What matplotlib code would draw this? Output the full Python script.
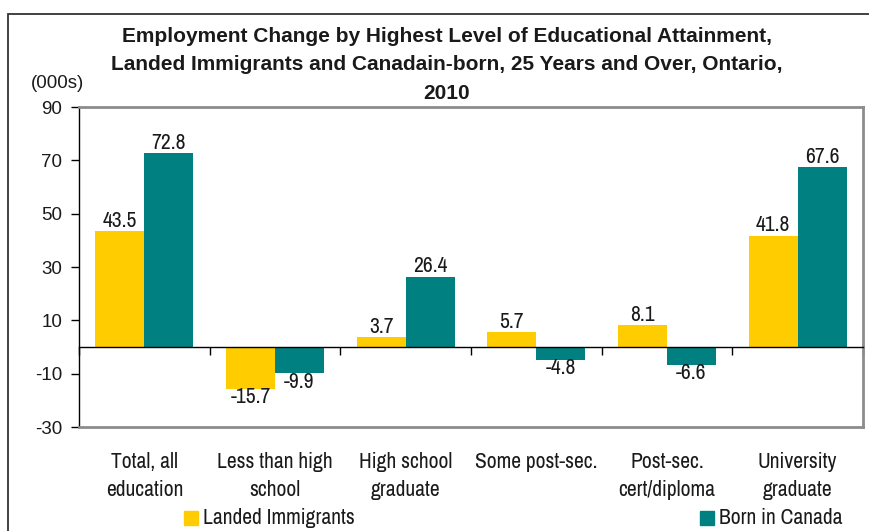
import matplotlib
matplotlib.use("Agg")
import matplotlib.pyplot as plt
from matplotlib.patches import Rectangle
from matplotlib.transforms import offset_copy
import numpy as np

categories = ["Total, all\neducation", "Less than high\nschool", "High school\ngraduate",
              "Some post-sec.", "Post-sec.\ncert/diploma", "University\ngraduate"]
immigrants = [43.5, -15.7, 3.7, 5.7, 8.1, 41.8]
born_canada = [72.8, -9.9, 26.4, -4.8, -6.6, 67.6]
yticks = [90, 70, 50, 30, 10, -10, -30]
title_lines = ["Employment Change by Highest Level of Educational Attainment,",
               "Landed Immigrants and Canadain-born, 25 Years and Over, Ontario,",
               "2010"]

YELLOW = "#FFCC00"
TEAL = "#008080"
TXT = "#1a1a1a"
NARROW = ["Archivo Narrow", "PT Sans Narrow", "Liberation Sans", "DejaVu Sans"]
REG = ["Liberation Sans", "DejaVu Sans"]
NARROW_SIZE = 15.5

W, H = 870, 531
fig = plt.figure(figsize=(W / 100, H / 100), dpi=100)

# outer frame (extends past right/bottom edges)
fig.patches.append(Rectangle((8.5 / W, -0.05), 1.2, 1 - 14 / H + 0.05,
                             transform=fig.transFigure, fill=False,
                             edgecolor="#333333", lw=1.3))

ax = fig.add_axes([79 / W, 1 - 427 / H, (863 - 79) / W, (427 - 107) / H])

x = np.arange(len(categories))
bw = 0.375
b1 = ax.bar(x - bw / 2, immigrants, bw, color=YELLOW, label="Landed Immigrants", zorder=2)
b2 = ax.bar(x + bw / 2, born_canada, bw, color=TEAL, label="Born in Canada", zorder=2)

ax.set_xlim(-0.5, len(categories) - 0.5)
ax.set_ylim(-30, 90)

# data labels
for bars, vals in ((b1, immigrants), (b2, born_canada)):
    for rect, v in zip(bars, vals):
        cx = rect.get_x() + rect.get_width() / 2
        if v >= 0:
            ax.annotate(f"{v:.1f}", (cx, v), xytext=(0, 3), textcoords="offset points",
                        ha="center", va="baseline", fontsize=NARROW_SIZE,
                        family=NARROW, color=TXT)
        else:
            ax.annotate(f"{v:.1f}", (cx, v), xytext=(0, 1), textcoords="offset points",
                        ha="center", va="top", fontsize=NARROW_SIZE,
                        family=NARROW, color=TXT)

# spines: left black, others gray; bottom spine moved to zero as category axis
for s in ("top", "right"):
    ax.spines[s].set_color("#8c8c8c")
    ax.spines[s].set_linewidth(2)
ax.spines["left"].set_color("black")
ax.spines["left"].set_linewidth(1)
ax.spines["bottom"].set_position(("data", 0))
ax.spines["bottom"].set_color("black")
ax.spines["bottom"].set_linewidth(1)
ax.spines["bottom"].set_zorder(3)
ax.axhline(-30, color="#8c8c8c", lw=2, clip_on=False, zorder=3)

ax.set_xticks(np.arange(len(categories) + 1) - 0.5)
ax.set_xticklabels([])
ax.tick_params(axis="x", direction="out", length=6, width=1, color="black")

ax.set_yticks(yticks)
ax.set_yticklabels([str(t) for t in yticks])
ax.tick_params(axis="y", direction="out", length=6, width=1, color="black",
               labelsize=13.5, labelcolor=TXT, pad=6)
for lab in ax.get_yticklabels():
    lab.set_family(REG)

# category labels under the plot area
label_tr = offset_copy(ax.transData, fig=fig, x=0, y=-25, units="dots")
for xi, name in zip(x, categories):
    ax.text(xi, -30, name, transform=label_tr, ha="center", va="top",
            fontsize=NARROW_SIZE, family=NARROW, color=TXT, linespacing=1.5,
            clip_on=False)

# title and unit
for i, line in enumerate(title_lines):
    fig.text(447 / W, 1 - (41.7 + 28.5 * i) / H, line, ha="center", va="baseline",
             fontsize=15, fontweight="bold", family=REG, color=TXT)
fig.text(58 / W, 1 - 83 / H, "(000s)", ha="center", va="center",
         fontsize=13.5, family=REG, color=TXT)

# legend entries placed separately at the bottom
for (x0, lbl, col) in ((184, "Landed Immigrants", YELLOW), (700, "Born in Canada", TEAL)):
    fig.patches.append(Rectangle((x0 / W, 1 - 525 / H), 14 / W, 14 / H,
                                 transform=fig.transFigure, color=col))
    fig.text((x0 + 19) / W, 1 - 518 / H, lbl, ha="left", va="center",
             fontsize=NARROW_SIZE, family=NARROW, color=TXT)

fig.savefig("out.png", dpi=100)
